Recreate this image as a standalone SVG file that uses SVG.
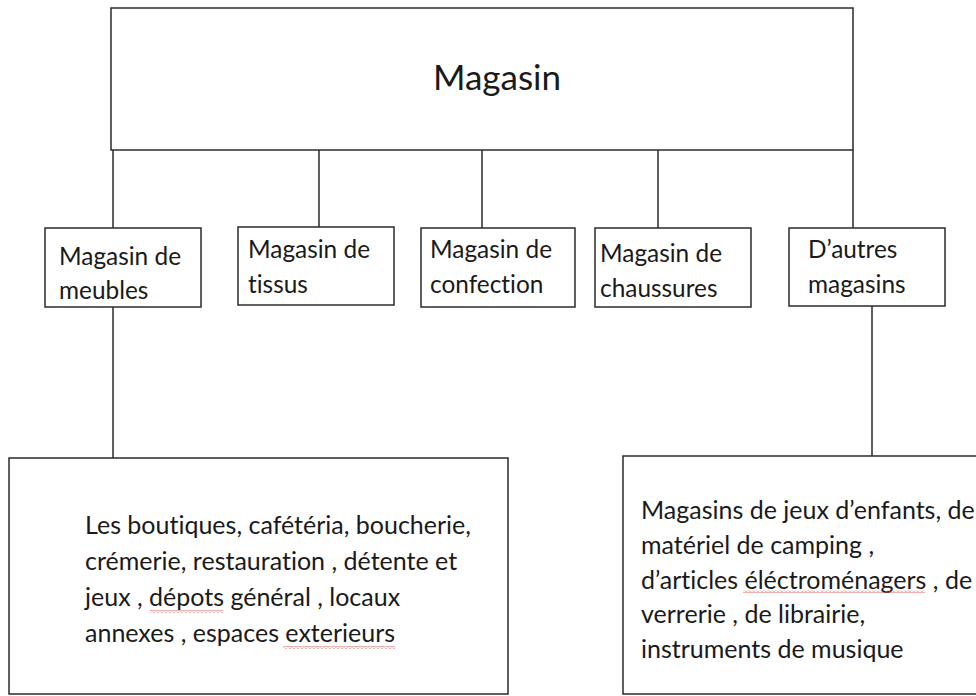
<svg xmlns="http://www.w3.org/2000/svg" width="976" height="696" viewBox="0 0 976 696">
<defs>
<style>
.box{fill:#fff;stroke:#2b2b2b;stroke-width:1.5}
.ln{fill:none;stroke:#2b2b2b;stroke-width:1.5}
.t{font-family:Lato,"Open Sans",sans-serif;fill:#1a1a1a;font-size:24.4px;font-variant-ligatures:none;font-feature-settings:"liga" 0,"clig" 0,"dlig" 0}
.big{font-size:35px}
.body{font-size:25px}
</style>
<pattern id="wave" x="0" y="0" width="4" height="3" patternUnits="userSpaceOnUse">
<path d="M0 2.5L2 0.5L4 2.5" fill="none" stroke="#e05050" stroke-width="0.9"/>
</pattern>
</defs>
<rect width="976" height="696" fill="#fff"/>
<g id="connectors">
<path class="ln" d="M113 150V228M319 150V228M482 150V228M658 150V228M853 150V228M113 307V458M872 306V456"/>
</g>
<g id="magasin">
<rect class="box" x="111" y="8" width="742" height="142"/>
<text class="t big" x="433" y="90">Magasin</text>
</g>
<g id="meubles">
<rect class="box" x="45" y="228" width="156" height="79"/>
<text class="t" x="59" y="265">Magasin de</text>
<text class="t" x="59" y="299">meubles</text>
</g>
<g id="tissus">
<rect class="box" x="238" y="227" width="156" height="78"/>
<text class="t" x="248" y="258">Magasin de</text>
<text class="t" x="248" y="293">tissus</text>
</g>
<g id="confection">
<rect class="box" x="421" y="228" width="154" height="79"/>
<text class="t" x="430" y="258">Magasin de</text>
<text class="t" x="430" y="293">confection</text>
</g>
<g id="chaussures">
<rect class="box" x="595" y="228" width="156" height="79"/>
<text class="t" x="600" y="262">Magasin de</text>
<text class="t" x="600" y="297">chaussures</text>
</g>
<g id="autres">
<rect class="box" x="789" y="228" width="156" height="78"/>
<text class="t" x="808" y="258">D’autres</text>
<text class="t" x="808" y="293">magasins</text>
</g>
<g id="details-meubles">
<rect class="box" x="9" y="458" width="499" height="236"/>
<text class="t body" x="85" y="534">Les boutiques, cafétéria, boucherie,</text>
<text class="t body" x="85" y="570">crémerie, restauration , détente et</text>
<text class="t body" x="85" y="606">jeux , dépots général , locaux</text>
<text class="t body" x="85" y="642">annexes , espaces exterieurs</text>
<rect x="150" y="610" width="73" height="3" fill="url(#wave)"/>
<rect x="283" y="646" width="112" height="3" fill="url(#wave)"/>
</g>
<g id="details-autres">
<rect class="box" x="623" y="456" width="360" height="238"/>
<text class="t body" x="641" y="519">Magasins de jeux d’enfants, de</text>
<text class="t body" x="641" y="554">matériel de camping ,</text>
<text class="t body" x="641" y="589">d’articles éléctroménagers , de</text>
<text class="t body" x="641" y="623">verrerie , de librairie,</text>
<text class="t body" x="641" y="658">instruments de musique</text>
<rect x="743" y="590" width="182" height="3" fill="url(#wave)"/>
</g>
</svg>
